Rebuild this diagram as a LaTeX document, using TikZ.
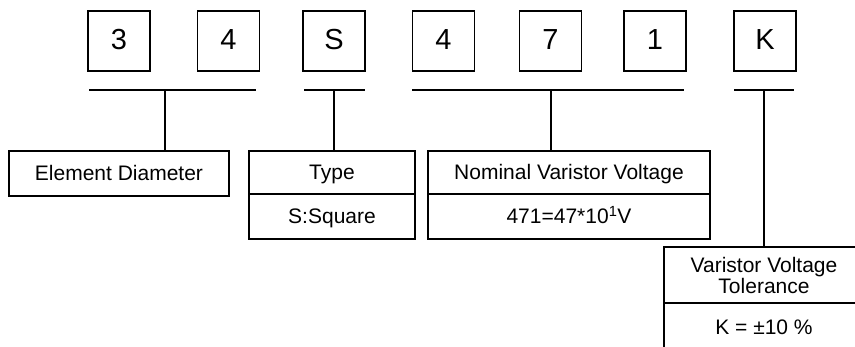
\documentclass[tikz,border=0pt]{standalone}
\usepackage{fontspec}
\setmainfont{Liberation Sans}
\usetikzlibrary{positioning}
\begin{document}
\begin{tikzpicture}[x=1pt, y=-1pt,
  digit/.style={rectangle, draw=black, line width=1.1pt, minimum width=62pt, minimum height=60pt, inner sep=0pt, text height=18pt, text depth=0pt, font=\fontsize{29}{30}\selectfont},
  cell/.style={rectangle, draw=black, line width=1.1pt, inner sep=0pt, outer sep=0pt, align=center, font=\fontsize{21}{21}\selectfont},
  field/.style={cell, text height=15pt, text depth=0pt},
  bar/.style={line width=1.6pt}]
  \useasboundingbox (0,0) rectangle (855,347);

  \node (c1) [digit] at (119,41) {3};
  \node (c2) [digit] at (228.5,41) {4};
  \node (c3) [digit] at (334,41) {S};
  \node (c4) [digit] at (443.5,41) {4};
  \node (c5) [digit] at (550.5,41) {7};
  \node (c6) [digit] at (655,41) {1};
  \node (c7) [digit] at (765,41) {K};

  \node (ed) [field, minimum width=220pt, minimum height=45pt] at (119,173.5) {Element Diameter};
  \node (ty) [field, minimum width=166pt, minimum height=43pt] at (332,172.5) {Type};
  \node (tyv) [field, minimum width=166pt, minimum height=45pt, below=0pt of ty] {S:Square};
  \node (nv) [field, minimum width=282pt, minimum height=43pt] at (569,172.5) {Nominal Varistor Voltage};
  \node (nvv) [field, minimum width=282pt, minimum height=45pt, below=0pt of nv] {471=47*10\textsuperscript{1}V};
  \node (vt) [cell, minimum width=200pt, minimum height=56pt] at (764,275) {Varistor Voltage\\Tolerance};
  \node (vtv) [field, minimum width=200pt, minimum height=49pt, below=0pt of vt] {K = ±10 \%};

  % bars under the code
  \coordinate (b1l) at (89,90);  \coordinate (b1r) at (256,90); \coordinate (b1) at (165,90);
  \coordinate (b2l) at (304,90); \coordinate (b2r) at (365,90); \coordinate (b2) at (334,90);
  \coordinate (b3l) at (412,90); \coordinate (b3r) at (684,90); \coordinate (b3) at (551,90);
  \coordinate (b4l) at (734,90); \coordinate (b4r) at (794,90); \coordinate (b4) at (764,90);

  \draw [bar] (b1l) -- (b1r);
  \draw [bar] (b2l) -- (b2r);
  \draw [bar] (b3l) -- (b3r);
  \draw [bar] (b4l) -- (b4r);

  \draw [bar] (b1) -- (b1 |- ed.north);
  \draw [bar] (b2) -- (b2 |- ty.north);
  \draw [bar] (b3) -- (b3 |- nv.north);
  \draw [bar] (b4) -- (b4 |- vt.north);
\end{tikzpicture}
\end{document}
